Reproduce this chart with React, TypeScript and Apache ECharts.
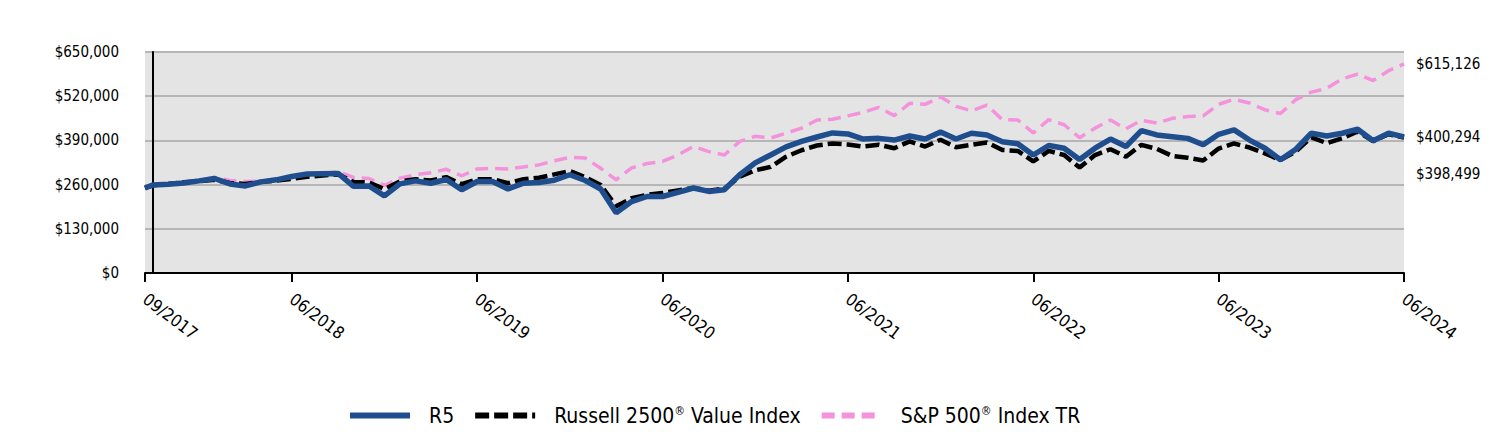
import React, { useEffect, useRef } from 'react';
import * as echarts from 'echarts';

// x positions: inception (mid-09/2017) then month-ends 09/2017 .. 06/2024
const tickPositions = [-0.5, 9, 21, 33, 45, 57, 69, 81];
const tickLabels = ['09/2017', '06/2018', '06/2019', '06/2020', '06/2021', '06/2022', '06/2023', '06/2024'];

const seriesNames = ['R5', 'Russell 2500® Value Index', 'S&P 500® Index TR'];

const r5 = [250000, 259000, 261000, 265000, 271000, 278000, 262000, 256000, 268000, 274000, 284000, 291000, 292000, 293000, 255000, 256000, 227000, 262000, 271000, 264000, 275000, 245000, 269000, 269000, 247000, 264000, 266000, 273000, 289000, 272000, 247000, 177000, 210000, 225000, 225000, 237000, 250000, 240000, 245000, 289000, 324000, 347000, 371000, 387000, 400000, 412000, 409000, 394000, 396000, 391000, 403000, 394000, 415000, 394000, 411000, 406000, 386000, 380000, 347000, 375000, 367000, 334000, 367000, 394000, 372000, 419000, 406000, 401000, 396000, 377000, 408000, 421000, 391000, 367000, 333000, 364000, 411000, 403000, 411000, 423000, 389000, 411000, 400294];

const russell = [250000, 258000, 262000, 267000, 270000, 274000, 265000, 262000, 268000, 272000, 277000, 283000, 287000, 290000, 268000, 266000, 247000, 269000, 276000, 272000, 282000, 261000, 276000, 276000, 264000, 276000, 280000, 290000, 300000, 282000, 259000, 196000, 220000, 230000, 235000, 243000, 250000, 242000, 248000, 283000, 302000, 312000, 342000, 361000, 375000, 381000, 378000, 372000, 377000, 367000, 387000, 372000, 392000, 370000, 377000, 384000, 362000, 359000, 328000, 359000, 347000, 310000, 347000, 364000, 342000, 377000, 365000, 344000, 339000, 331000, 366000, 381000, 369000, 352000, 332000, 357000, 399000, 382000, 396000, 416000, 388000, 408000, 398499];

const sp500 = [250000, 258000, 262000, 266000, 272000, 282000, 272000, 269000, 270000, 275000, 283000, 290000, 292000, 298000, 281000, 278000, 258000, 279000, 289000, 295000, 305000, 286000, 306000, 308000, 306000, 312000, 318000, 330000, 340000, 338000, 308000, 274000, 309000, 322000, 328000, 347000, 372000, 357000, 347000, 387000, 402000, 397000, 411000, 426000, 450000, 452000, 462000, 473000, 487000, 463000, 499000, 496000, 518000, 490000, 477000, 494000, 451000, 450000, 412000, 451000, 436000, 398000, 426000, 450000, 424000, 449000, 441000, 455000, 460000, 462000, 496000, 511000, 500000, 480000, 469000, 510000, 532000, 543000, 571000, 585000, 566000, 595000, 615126];

const FONT = "'DejaVu Sans Condensed', 'DejaVu Sans', sans-serif";

const toPoints = (vals: number[]) => vals.map((v, i) => [i === 0 ? -0.5 : i - 1, v]);
const money = (v: number) => '$' + Math.round(v).toLocaleString('en-US');

export default function App() {
  const ref = useRef<HTMLDivElement>(null);

  useEffect(() => {
    if (!ref.current) return;
    const chart = echarts.init(ref.current, undefined, { renderer: 'svg' });
    const endLabel = (offsetY: number) => ({
      show: true,
      distance: 12,
      offset: [0, offsetY],
      color: '#000',
      fontSize: 15,
      fontFamily: FONT,
      formatter: (p: any) => money(p.value[1]),
    });
    chart.setOption({
      animation: false,
      backgroundColor: '#fff',
      grid: {
        left: 145,
        right: 108,
        top: 52,
        bottom: 159,
        show: true,
        backgroundColor: '#e4e4e4',
        borderWidth: 0,
      },
      legend: {
        bottom: 1,
        left: 342,
        itemWidth: 60,
        itemHeight: 14,
        itemGap: 18,
        data: seriesNames,
        itemStyle: { opacity: 0 },
        lineStyle: { width: 6 },
        textStyle: {
          fontFamily: FONT,
          fontSize: 21,
          color: '#000',
          padding: [0, 0, 0, 14],
          rich: {
            sup: { fontSize: 12, fontFamily: FONT, color: '#000', verticalAlign: 'top', lineHeight: 12, padding: [0, 0, 8, 0] },
          },
        },
        formatter: (name: string) => name.replace('®', '{sup|®}'),
      },
      xAxis: {
        type: 'value',
        min: -0.5,
        max: 81,
        axisLine: { show: true, onZero: false, lineStyle: { color: '#000', width: 2 } },
        axisTick: { show: true, length: 9, customValues: tickPositions, lineStyle: { color: '#000', width: 2 } },
        splitLine: { show: false },
        axisLabel: {
          customValues: tickPositions,
          rotate: -37,
          margin: 24,
          fontSize: 17,
          fontFamily: FONT,
          color: '#000',
          formatter: (v: number) => {
            const idx = tickPositions.findIndex((t) => Math.abs(t - v) < 1e-6);
            return idx >= 0 ? tickLabels[idx] : '';
          },
        },
      },
      yAxis: {
        type: 'value',
        min: 0,
        max: 650000,
        interval: 130000,
        axisLine: { show: true, lineStyle: { color: '#000', width: 2 } },
        axisTick: { show: false },
        splitLine: { show: true, lineStyle: { color: '#b6b6b6', width: 2 } },
        axisLabel: {
          margin: 26,
          fontSize: 15,
          fontFamily: FONT,
          color: '#000',
          formatter: (v: number) => money(v),
        },
      },
      series: [
        {
          name: seriesNames[0],
          type: 'line',
          data: toPoints(r5),
          symbol: 'none',
          z: 5,
          color: '#1F4E8F',
          lineStyle: { color: '#1F4E8F', width: 5.5 },
          endLabel: endLabel(0),
        },
        {
          name: seriesNames[1],
          type: 'line',
          data: toPoints(russell),
          symbol: 'none',
          z: 4,
          color: '#000',
          lineStyle: { color: '#000', width: 4.5, type: [14, 5] },
          endLabel: endLabel(36),
        },
        {
          name: seriesNames[2],
          type: 'line',
          data: toPoints(sp500),
          symbol: 'none',
          z: 3,
          color: '#F492DC',
          lineStyle: { color: '#F492DC', width: 3.5, type: [13, 7] },
          endLabel: endLabel(0),
        },
      ],
    });
    return () => chart.dispose();
  }, []);

  return <div ref={ref} style={{ position: 'fixed', left: 0, top: 0, width: 1512, height: 432 }} />;
}
